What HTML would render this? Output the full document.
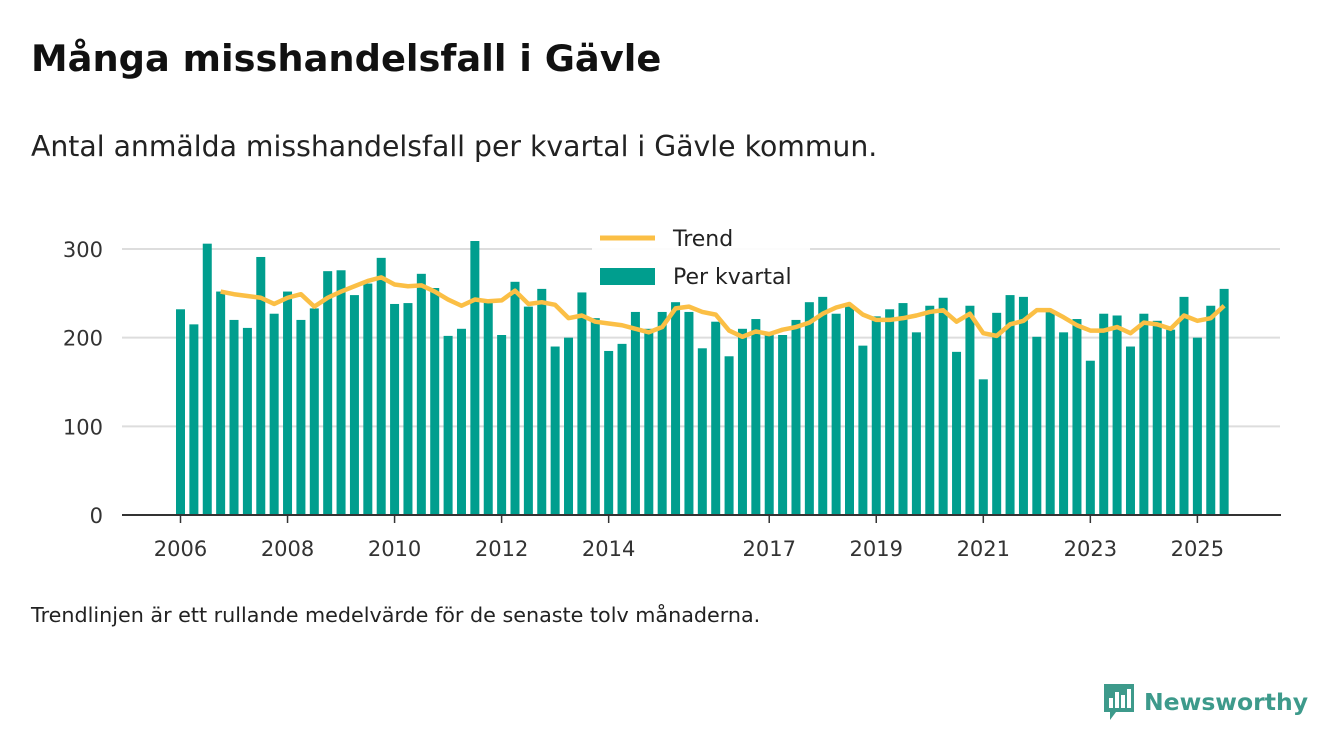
<!DOCTYPE html>
<html><head><meta charset="utf-8"><style>
body{margin:0;width:1340px;height:753px;background:#fff;font-family:"DejaVu Sans",sans-serif;overflow:hidden;position:relative}
h1{position:absolute;left:31px;top:37px;margin:0;font-size:36.8px;font-weight:bold;color:#111}
.sub{position:absolute;left:31px;top:130px;font-size:28.3px;color:#222}
.note{position:absolute;left:31px;top:603px;font-size:20.7px;color:#222}
.logo{position:absolute;left:1102px;top:682px;display:flex;align-items:center;gap:8px;color:#3d9a8b;font-size:23.5px;font-weight:bold}
</style></head><body>
<h1>Många misshandelsfall i Gävle</h1>
<div class="sub">Antal anmälda misshandelsfall per kvartal i Gävle kommun.</div>
<svg id="chart" width="1340" height="753" style="position:absolute;left:0;top:0"></svg>
<div class="note">Trendlinjen är ett rullande medelvärde för de senaste tolv månaderna.</div>
<div class="logo">
<svg width="34" height="40" viewBox="0 0 34 40"><path d="M2 2h30v28H14l-6 8v-8H2z" fill="#3d9a8b"/><rect x="7" y="16" width="4" height="10" fill="#fff"/><rect x="13" y="10" width="4" height="16" fill="#fff"/><rect x="19" y="13" width="4" height="13" fill="#fff"/><rect x="25" y="7" width="4" height="19" fill="#fff"/></svg>
<span>Newsworthy</span></div>
<script>
const bars=[232,215,306,252,220,211,291,227,252,220,233,275,276,248,261,290,238,239,272,256,202,210,309,240,203,263,235,255,190,200,251,222,185,193,229,210,229,240,229,188,218,179,210,221,206,203,220,240,246,227,235,191,224,232,239,206,236,245,184,236,153,228,248,246,201,230,206,221,174,227,225,190,227,219,209,246,200,236,255];
const trendStart=3;
const trend=[252,249,247,245,238,245,249,235,245,252,258,264,268,260,258,259,252,243,236,243,241,242,253,238,240,237,222,225,218,216,214,210,206,212,233,235,229,226,208,201,207,204,209,212,217,227,234,238,226,220,220,222,225,229,231,218,227,205,202,215,219,231,231,223,214,208,208,212,205,217,215,210,225,219,222,236];
const yTicks=[0,100,200,300];
const xYears=[2006,2008,2010,2012,2014,2017,2019,2021,2023,2025];
const NS="http://www.w3.org/2000/svg",svg=document.getElementById('chart');
const F='DejaVu Sans';
const y=v=>515-v*0.8867, xi=i=>180.5+i*13.38, xy=yr=>xi((yr-2006)*4);
function mk(t,a){const e=document.createElementNS(NS,t);for(const k in a)e.setAttribute(k,a[k]);svg.appendChild(e);return e;}
yTicks.forEach(v=>{
 if(v>0){const g=mk('line',{x1:122,x2:1280,y1:y(v),y2:y(v),stroke:'#ddd','stroke-width':2});
 
 }
 const t=mk('text',{x:103,y:y(v)+8,'text-anchor':'end','font-size':21,fill:'#333','font-family':F});t.textContent=v;
 
 
});
bars.forEach((v,i)=>{const r=mk('rect',{x:xi(i)-4.5,y:y(v),width:9,height:515-y(v),fill:'#009e8e'});
 
 });
const ax=mk('line',{x1:122,x2:1281,y1:515,y2:515,stroke:'#333','stroke-width':2});


xYears.forEach(yr=>{const x=xy(yr);mk('line',{x1:x,x2:x,y1:515,y2:523,stroke:'#333','stroke-width':1.5});
 const t=mk('text',{x:x,y:556,'text-anchor':'middle','font-size':21,fill:'#333','font-family':F});t.textContent=yr;
 
 });
const pl=mk('polyline',{points:trend.map((v,i)=>xi(i+trendStart)+','+y(v)).join(' '),fill:'none',stroke:'#fbbf45','stroke-width':4.5,'stroke-linejoin':'round'});


const lb=mk('rect',{x:592,y:222,width:218,height:73,fill:'#fff',opacity:0.9});


const l1=mk('line',{x1:600,x2:655,y1:238,y2:238,stroke:'#fbbf45','stroke-width':5});


const t1=mk('text',{x:673,y:246,'font-size':22,fill:'#222','font-family':F});t1.textContent='Trend';


const l2=mk('rect',{x:600,y:268,width:55,height:17,fill:'#009e8e'});


const t2=mk('text',{x:673,y:284,'font-size':22,fill:'#222','font-family':F});t2.textContent='Per kvartal';


</script>
</body></html>
